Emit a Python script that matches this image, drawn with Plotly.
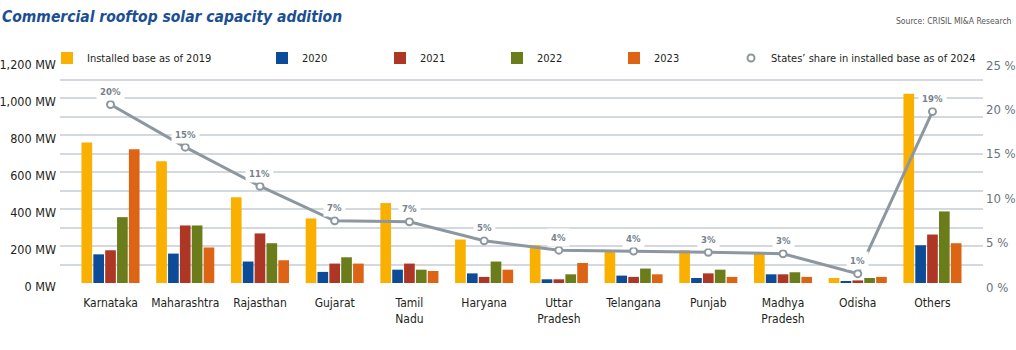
import plotly.graph_objects as go

states = ["Karnataka", "Maharashtra", "Rajasthan", "Gujarat", "Tamil<br>Nadu", "Haryana",
          "Uttar<br>Pradesh", "Telangana", "Punjab", "Madhya<br>Pradesh", "Odisha", "Others"]
base_2019 = [760, 658, 463, 349, 432, 235, 204, 170, 177, 159, 27, 1023]
add_2020 = [155, 159, 116, 60, 72, 52, 20, 40, 27, 47, 9, 204]
add_2021 = [177, 311, 268, 105, 105, 33, 20, 33, 52, 47, 14, 262]
add_2022 = [356, 311, 215, 139, 72, 116, 47, 78, 72, 58, 27, 387]
add_2023 = [723, 192, 123, 105, 65, 72, 108, 47, 33, 33, 33, 215]
share_2024 = [20.1, 15.3, 10.9, 7.0, 6.9, 4.75, 3.7, 3.6, 3.45, 3.3, 1.05, 19.3]
share_labels = ["20%", "15%", "11%", "7%", "7%", "5%", "4%", "4%", "3%", "3%", "1%", "19%"]
mw_ticks = [0, 200, 400, 600, 800, 1000, 1200]
pct_ticks = [0, 5, 10, 15, 20, 25]

series_names = ["Installed base as of 2019", "2020", "2021", "2022", "2023"]
series_vals = [base_2019, add_2020, add_2021, add_2022, add_2023]
colors = ["#F9B000", "#0B4B98", "#AE3624", "#6B7C1A", "#DE6415"]
legend_ids = ["legend", "legend2", "legend3", "legend4", "legend5"]
legend_text_px = [87, 302, 420, 537, 654, 771]

FONT = "DejaVu Sans Condensed, Roboto, sans-serif"
L, R, T, B = 60, 33, 61, 67
W = 1016
PW = W - L - R
PH = 350 - T - B
INDENT = -12

def px2paper(px):
    return (px - L) / PW

fig = go.Figure()
for name, vals, col, lg in zip(series_names, series_vals, colors, legend_ids):
    fig.add_trace(go.Bar(x=states, y=vals, name=name, marker_color=col,
                         marker_line_width=0, legend=lg))

LINE_COL = "#8D979F"
fig.add_trace(go.Scatter(x=states, y=share_2024, yaxis="y2", mode="lines",
                         line=dict(color=LINE_COL, width=3), showlegend=False,
                         hoverinfo="skip"))
fig.add_trace(go.Scatter(x=states, y=share_2024, yaxis="y2", mode="markers",
                         name="States\u2019 share in installed base as of 2024",
                         marker=dict(symbol="circle", size=7, color="white",
                                     line=dict(color=LINE_COL, width=2)),
                         legend="legend6"))

annotations = []
for s, v, t in zip(states, share_2024, share_labels):
    annotations.append(dict(x=s, y=v, xref="x", yref="y2", text=t, showarrow=False,
                            yshift=13, font=dict(family=FONT, size=9.5, color="#76828C",
                                                 weight="bold"),
                            bgcolor="white", borderpad=3))

annotations.append(dict(x=px2paper(1014), y=1 + (T - 21) / PH, xref="paper", yref="paper",
                        text="Source: CRISIL MI&A Research",
                        showarrow=False, xanchor="right", yanchor="middle",
                        font=dict(family=FONT, size=8.5, color="#555555")))

legends = {}
all_lg = legend_ids + ["legend6"]
for lg, tx in zip(all_lg, legend_text_px):
    legends[lg] = dict(x=px2paper(max(tx - 40 - INDENT, 58)), xanchor="left",
                       y=1 + (T - 58) / PH, yanchor="middle",
                       orientation="h", bgcolor="white", borderwidth=0,
                       indentation=INDENT,
                       font=dict(family=FONT, size=11, color="#231F20"),
                       tracegroupgap=0, itemclick=False, itemdoubleclick=False)

fig.update_layout(
    width=1016, height=350,
    margin=dict(l=L, r=R, t=T, b=B, autoexpand=False),
    plot_bgcolor="white", paper_bgcolor="white",
    barmode="group", bargap=0.207, bargroupgap=0.1,
    title=dict(text="Commercial rooftop solar capacity addition", x=2 / W, xanchor="left",
               xref="container", y=1 - 17 / 350, yanchor="middle", yref="container",
               font=dict(family=FONT, size=15.5, color="#1B4E93", weight="bold", style="italic")),
    xaxis=dict(showgrid=False, showline=False, ticks="", zeroline=False,
               tickfont=dict(family=FONT, size=12, color="#231F20"),
               ticklabelstandoff=11),
    yaxis=dict(range=[0, 1200], tickmode="array", tickvals=mw_ticks,
               ticktext=[f"{v:,} MW" for v in mw_ticks],
               showgrid=True, gridcolor="#D3D9DE",
               gridwidth=1.5, zeroline=False, showline=False, ticks="",
               minor=dict(dtick=100, showgrid=True, gridcolor="#D3D9DE", gridwidth=1.5),
               tickfont=dict(family=FONT, size=12.5, color="#231F20"),
               ticklabelshift=4, ticklabelstandoff=3),
    yaxis2=dict(range=[0, 25], tickmode="array", tickvals=pct_ticks,
                ticktext=[f"{v} %" for v in pct_ticks],
                overlaying="y", side="right", showgrid=False, zeroline=False,
                showline=False, ticks="",
                tickfont=dict(family=FONT, size=13, color="#6B747C"),
                ticklabelshift=4, ticklabelstandoff=2),
    annotations=annotations,
    showlegend=True,
    **legends,
)

fig.write_html("out.html")
